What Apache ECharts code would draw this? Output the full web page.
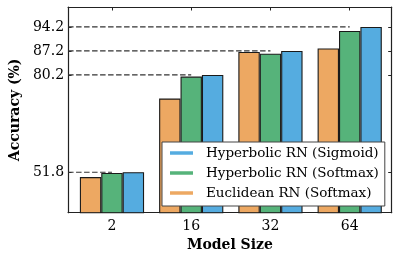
<!DOCTYPE html>
<html>
<head>
<meta charset="utf-8">
<script src="https://cdn.jsdelivr.net/npm/echarts@6/dist/echarts.min.js"></script>
<style>html,body{margin:0;padding:0;background:#fff}#c{width:399px;height:259px}</style>
</head>
<body>
<div id="c"></div>
<script>
const categories = ['2', '16', '32', '64'];
const euclideanSoftmax = [50.4, 73.3, 86.9, 87.9];
const hyperbolicSoftmax = [51.6, 79.7, 86.4, 93.0];
const hyperbolicSigmoid = [51.8, 80.2, 87.2, 94.2];
const yTickValues = [51.8, 80.2, 87.2, 94.2];

const FONT = 'DejaVu Serif';
const C_OR = '#eda862', C_GR = '#56b37a', C_BL = '#55ace0';
const idx = categories.map((c, i) => i);
const toPairs = arr => arr.map((v, i) => [i, v]);

const chart = echarts.init(document.getElementById('c'), null, {renderer: 'canvas'});
const barCommon = {
  type: 'bar', barWidth: 21.4, barGap: '0%'
};
const barStyle = color => ({color: color, borderColor: '#1a1a1a', borderWidth: 1.1});
chart.setOption({
  animation: false,
  backgroundColor: '#fff',
  grid: {left: 65, top: 7, right: 7.3, bottom: 46.3, containLabel: false},
  xAxis: [{
    type: 'value', min: -0.554, max: 3.53,
    name: 'Model Size', nameLocation: 'middle', nameGap: 24,
    nameTextStyle: {fontFamily: FONT, fontWeight: 'bold', fontSize: 14, color: '#000', verticalAlign: 'top'},
    axisLine: {show: true, onZero: false, lineStyle: {color: '#222', width: 1.2}},
    axisTick: {show: true, inside: true, length: 3.5, customValues: idx, lineStyle: {color: '#222'}},
    axisLabel: {customValues: idx, formatter: v => categories[Math.round(v)], fontFamily: FONT, fontSize: 14, color: '#000', margin: 7},
    splitLine: {show: false}
  }, {
    type: 'value', position: 'top', min: -0.554, max: 3.53,
    axisLine: {show: true, onZero: false, lineStyle: {color: '#222', width: 1.2}},
    axisTick: {show: true, inside: true, length: 3.5, customValues: idx, lineStyle: {color: '#222'}},
    axisLabel: {show: false}, splitLine: {show: false}
  }],
  yAxis: [{
    type: 'value', min: 40, max: 100,
    name: 'Accuracy (%)', nameLocation: 'middle', nameGap: 44, nameRotate: 90,
    nameTextStyle: {fontFamily: FONT, fontWeight: 'bold', fontSize: 14, color: '#000'},
    axisLine: {show: true, onZero: false, lineStyle: {color: '#222', width: 1.2}},
    axisTick: {show: true, inside: true, length: 3.5, customValues: yTickValues, lineStyle: {color: '#222'}},
    axisLabel: {customValues: yTickValues, formatter: v => v.toFixed(1), fontFamily: FONT, fontSize: 14, color: '#000', margin: 4},
    splitLine: {show: false}
  }, {
    type: 'value', position: 'right', min: 40, max: 100,
    axisLine: {show: true, onZero: false, lineStyle: {color: '#222', width: 1.2}},
    axisTick: {show: true, inside: true, length: 3.5, customValues: yTickValues, lineStyle: {color: '#222'}},
    axisLabel: {show: false}, splitLine: {show: false}
  }],
  legend: {
    orient: 'vertical', left: 162, top: 142,
    data: ['Hyperbolic RN (Sigmoid)', 'Hyperbolic RN (Softmax)', 'Euclidean RN (Softmax)'],
    icon: 'rect', itemWidth: 23, itemHeight: 3.5, itemGap: 6,
    itemStyle: {borderWidth: 0},
    padding: [4, 6, 6, 8],
    backgroundColor: '#fff', borderColor: '#444', borderWidth: 1, borderRadius: 0,
    textStyle: {fontFamily: FONT, fontSize: 13.5, color: '#000', lineHeight: 14, padding: [0, 0, 0, 8]}
  },
  series: [
    {
      type: 'custom', z: 1, silent: true, xAxisIndex: 0, yAxisIndex: 0,
      data: toPairs(hyperbolicSigmoid),
      renderItem: (params, api) => {
        const p = api.coord([api.value(0), api.value(1)]);
        return {
          type: 'line',
          shape: {x1: params.coordSys.x, y1: p[1], x2: p[0], y2: p[1]},
          style: {stroke: '#333', lineWidth: 1.2, lineDash: [5.5, 2.5]}
        };
      }
    },
    Object.assign({}, barCommon, {name: 'Euclidean RN (Softmax)', data: toPairs(euclideanSoftmax), itemStyle: barStyle(C_OR)}),
    Object.assign({}, barCommon, {name: 'Hyperbolic RN (Softmax)', data: toPairs(hyperbolicSoftmax), itemStyle: barStyle(C_GR)}),
    Object.assign({}, barCommon, {name: 'Hyperbolic RN (Sigmoid)', data: toPairs(hyperbolicSigmoid), itemStyle: barStyle(C_BL)})
  ]
});
</script>
</body>
</html>
